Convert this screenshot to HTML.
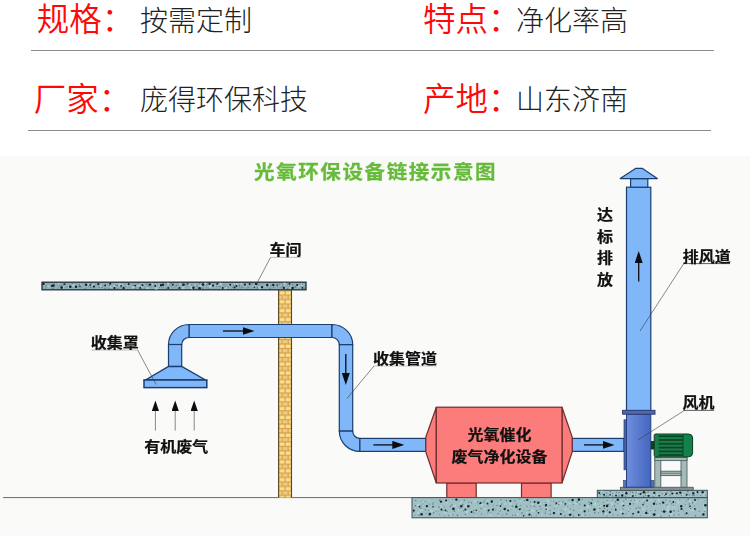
<!DOCTYPE html>
<html lang="zh-CN">
<head>
<meta charset="utf-8">
<title>光氧环保设备链接示意图</title>
<style>
html,body{margin:0;padding:0;background:#fff;}
body{width:750px;height:559px;position:relative;overflow:hidden;font-family:"Liberation Sans","Noto Sans CJK SC",sans-serif;}
.lab{position:absolute;color:#ff0808;font-size:32.5px;font-weight:350;line-height:40px;white-space:nowrap;}
.val{position:absolute;color:#222;font-size:28px;font-weight:300;line-height:40px;white-space:nowrap;}
.hr{position:absolute;height:1px;background:#8a8a8a;}
#dg{position:absolute;left:0;top:156px;width:750px;height:380px;background:#fafaf8;overflow:hidden;}
#dg svg{display:block;filter:blur(0.45px);}
svg text{font-family:"Liberation Sans","Noto Sans CJK SC",sans-serif;font-weight:700;fill:#111;stroke:#111;stroke-width:0.25px;stroke-linejoin:round;}
</style>
</head>
<body>
<div class="lab" style="left:36.7px;top:-0.4px;">规格：</div>
<div class="val" style="left:140px;top:1.5px;">按需定制</div>
<div class="lab" style="left:423px;top:-0.4px;">特点：</div>
<div class="val" style="left:516px;top:2px;">净化率高</div>
<div class="hr" style="left:31px;top:50px;width:683px;"></div>
<div class="lab" style="left:33.7px;top:79.6px;">厂家：</div>
<div class="val" style="left:140px;top:80.5px;">庞得环保科技</div>
<div class="lab" style="left:423px;top:79.6px;">产地：</div>
<div class="val" style="left:516px;top:80.5px;">山东济南</div>
<div class="hr" style="left:28px;top:130px;width:683px;"></div>
<div id="dg">
<svg width="750" height="380" viewBox="0 156 750 380">
<defs>
<pattern id="brick" width="13.4" height="8.9" patternUnits="userSpaceOnUse" x="278.3" y="290.6">
<rect width="13.4" height="8.9" fill="#d3a050"/>
<rect x="1.2" y="0.6" width="5" height="3.3" fill="#fbe28a"/><rect x="7.4" y="0.6" width="5" height="3.3" fill="#fbe28a"/>
<rect x="-1.8" y="5" width="5" height="3.3" fill="#f6d27f"/><rect x="4.3" y="5" width="5" height="3.3" fill="#f3c684"/><rect x="10.4" y="5" width="5" height="3.3" fill="#f6d27f"/>
</pattern>
<linearGradient id="fan" x1="0" x2="1" y1="0" y2="0">
<stop offset="0" stop-color="#6f8fdc"/><stop offset="1" stop-color="#4366c0"/>
</linearGradient>
<marker id="ah" markerWidth="12" markerHeight="8" refX="1" refY="4" orient="auto" markerUnits="userSpaceOnUse"><path d="M0,0L12,4L0,8Z" fill="#0c0c10"/></marker>
<marker id="ah2" markerWidth="11" markerHeight="8" refX="0" refY="3.6" orient="auto" markerUnits="userSpaceOnUse"><path d="M0,0L10.5,3.6L0,7.2Z" fill="#0c0c10"/></marker>
</defs>
<!-- title -->
<text transform="translate(254.1,179.1) scale(1,0.92)" font-size="20.5" letter-spacing="1.6" style="fill:#66bb3a;stroke:#66bb3a;stroke-width:0.3px">光氧环保设备链接示意图</text>
<!-- ground line -->
<line x1="3" y1="497.6" x2="412" y2="497.6" stroke="#6a6a6a" stroke-width="1"/>
<!-- brick column -->
<rect x="278.3" y="290" width="13.4" height="207.6" fill="url(#brick)"/>
<line x1="278.6" y1="290" x2="278.6" y2="497.6" stroke="#5e4520" stroke-width="1.1"/>
<line x1="291.5" y1="290" x2="291.5" y2="497.6" stroke="#5e4520" stroke-width="1.1"/>
<!-- slab -->
<rect x="42" y="282.2" width="264" height="7.6" fill="#8fadb3" stroke="#22313a" stroke-width="1.3"/>
<circle cx="44.7" cy="284.4" r="1.4" fill="#b9d4d7" opacity="0.7"/>
<circle cx="48.3" cy="286.2" r="1.2" fill="#b9d4d7" opacity="0.7"/>
<circle cx="52.9" cy="286.0" r="0.9" fill="#b9d4d7" opacity="0.7"/>
<circle cx="58.8" cy="284.1" r="1.0" fill="#b9d4d7" opacity="0.7"/>
<circle cx="63.4" cy="287.5" r="1.0" fill="#b9d4d7" opacity="0.7"/>
<circle cx="67.3" cy="286.6" r="1.7" fill="#b9d4d7" opacity="0.7"/>
<circle cx="73.2" cy="285.5" r="1.7" fill="#b9d4d7" opacity="0.7"/>
<circle cx="75.8" cy="287.6" r="1.1" fill="#b9d4d7" opacity="0.7"/>
<circle cx="80.8" cy="284.3" r="1.1" fill="#b9d4d7" opacity="0.7"/>
<circle cx="87.8" cy="284.6" r="1.4" fill="#b9d4d7" opacity="0.7"/>
<circle cx="91.8" cy="285.4" r="1.3" fill="#b9d4d7" opacity="0.7"/>
<circle cx="94.3" cy="284.0" r="1.1" fill="#b9d4d7" opacity="0.7"/>
<circle cx="101.1" cy="285.7" r="1.2" fill="#b9d4d7" opacity="0.7"/>
<circle cx="105.4" cy="285.8" r="1.1" fill="#b9d4d7" opacity="0.7"/>
<circle cx="110.7" cy="286.9" r="1.1" fill="#b9d4d7" opacity="0.7"/>
<circle cx="114.5" cy="286.1" r="1.6" fill="#b9d4d7" opacity="0.7"/>
<circle cx="119.7" cy="285.0" r="1.7" fill="#b9d4d7" opacity="0.7"/>
<circle cx="122.0" cy="285.6" r="1.5" fill="#b9d4d7" opacity="0.7"/>
<circle cx="126.8" cy="286.0" r="0.9" fill="#b9d4d7" opacity="0.7"/>
<circle cx="133.3" cy="287.2" r="1.4" fill="#b9d4d7" opacity="0.7"/>
<circle cx="138.6" cy="285.2" r="1.5" fill="#b9d4d7" opacity="0.7"/>
<circle cx="142.2" cy="286.4" r="1.3" fill="#b9d4d7" opacity="0.7"/>
<circle cx="147.7" cy="288.0" r="1.3" fill="#b9d4d7" opacity="0.7"/>
<circle cx="151.6" cy="284.0" r="1.5" fill="#b9d4d7" opacity="0.7"/>
<circle cx="156.2" cy="288.2" r="1.6" fill="#b9d4d7" opacity="0.7"/>
<circle cx="159.4" cy="285.5" r="1.4" fill="#b9d4d7" opacity="0.7"/>
<circle cx="163.1" cy="285.8" r="1.0" fill="#b9d4d7" opacity="0.7"/>
<circle cx="168.0" cy="284.0" r="1.5" fill="#b9d4d7" opacity="0.7"/>
<circle cx="172.6" cy="284.9" r="1.2" fill="#b9d4d7" opacity="0.7"/>
<circle cx="180.0" cy="284.1" r="1.3" fill="#b9d4d7" opacity="0.7"/>
<circle cx="183.4" cy="287.7" r="1.6" fill="#b9d4d7" opacity="0.7"/>
<circle cx="189.1" cy="285.0" r="1.2" fill="#b9d4d7" opacity="0.7"/>
<circle cx="191.9" cy="287.7" r="1.7" fill="#b9d4d7" opacity="0.7"/>
<circle cx="195.7" cy="284.5" r="1.1" fill="#b9d4d7" opacity="0.7"/>
<circle cx="200.6" cy="285.9" r="1.4" fill="#b9d4d7" opacity="0.7"/>
<circle cx="205.3" cy="283.8" r="1.2" fill="#b9d4d7" opacity="0.7"/>
<circle cx="210.3" cy="286.3" r="1.7" fill="#b9d4d7" opacity="0.7"/>
<circle cx="216.1" cy="286.1" r="1.4" fill="#b9d4d7" opacity="0.7"/>
<circle cx="220.6" cy="284.0" r="1.6" fill="#b9d4d7" opacity="0.7"/>
<circle cx="225.6" cy="287.7" r="1.5" fill="#b9d4d7" opacity="0.7"/>
<circle cx="228.8" cy="285.5" r="1.0" fill="#b9d4d7" opacity="0.7"/>
<circle cx="234.2" cy="284.0" r="1.0" fill="#b9d4d7" opacity="0.7"/>
<circle cx="237.3" cy="284.5" r="1.2" fill="#b9d4d7" opacity="0.7"/>
<circle cx="241.3" cy="283.8" r="1.0" fill="#b9d4d7" opacity="0.7"/>
<circle cx="246.1" cy="285.4" r="0.9" fill="#b9d4d7" opacity="0.7"/>
<circle cx="253.5" cy="286.5" r="1.0" fill="#b9d4d7" opacity="0.7"/>
<circle cx="255.8" cy="285.3" r="1.2" fill="#b9d4d7" opacity="0.7"/>
<circle cx="259.9" cy="287.6" r="1.7" fill="#b9d4d7" opacity="0.7"/>
<circle cx="265.8" cy="285.9" r="1.0" fill="#b9d4d7" opacity="0.7"/>
<circle cx="269.1" cy="285.3" r="1.1" fill="#b9d4d7" opacity="0.7"/>
<circle cx="276.3" cy="284.5" r="0.9" fill="#b9d4d7" opacity="0.7"/>
<circle cx="281.4" cy="286.1" r="1.0" fill="#b9d4d7" opacity="0.7"/>
<circle cx="284.5" cy="283.9" r="1.3" fill="#b9d4d7" opacity="0.7"/>
<circle cx="290.7" cy="287.6" r="1.5" fill="#b9d4d7" opacity="0.7"/>
<circle cx="292.6" cy="285.4" r="1.0" fill="#b9d4d7" opacity="0.7"/>
<circle cx="299.1" cy="286.1" r="1.5" fill="#b9d4d7" opacity="0.7"/>
<circle cx="302.1" cy="284.8" r="1.5" fill="#b9d4d7" opacity="0.7"/>
<circle cx="46.0" cy="285.4" r="0.7" fill="#5d7a80"/>
<circle cx="45.5" cy="287.9" r="0.5" fill="#5d7a80"/>
<circle cx="48.1" cy="284.3" r="0.4" fill="#5d7a80"/>
<circle cx="46.8" cy="286.9" r="0.5" fill="#5d7a80"/>
<circle cx="51.9" cy="285.6" r="0.6" fill="#5d7a80"/>
<circle cx="52.6" cy="288.5" r="0.8" fill="#5d7a80"/>
<circle cx="54.4" cy="284.0" r="0.5" fill="#5d7a80"/>
<circle cx="53.9" cy="286.7" r="0.6" fill="#5d7a80"/>
<circle cx="59.2" cy="285.4" r="0.6" fill="#5d7a80"/>
<circle cx="58.5" cy="288.1" r="0.4" fill="#5d7a80"/>
<circle cx="61.9" cy="285.5" r="0.7" fill="#5d7a80"/>
<circle cx="62.1" cy="287.4" r="0.5" fill="#5d7a80"/>
<circle cx="65.6" cy="284.2" r="0.7" fill="#5d7a80"/>
<circle cx="66.1" cy="287.2" r="0.6" fill="#5d7a80"/>
<circle cx="69.4" cy="285.1" r="0.5" fill="#5d7a80"/>
<circle cx="67.2" cy="286.6" r="0.8" fill="#5d7a80"/>
<circle cx="72.4" cy="283.8" r="0.7" fill="#5d7a80"/>
<circle cx="72.8" cy="287.8" r="0.5" fill="#5d7a80"/>
<circle cx="75.0" cy="283.8" r="0.4" fill="#5d7a80"/>
<circle cx="76.2" cy="287.7" r="0.6" fill="#5d7a80"/>
<circle cx="79.4" cy="284.5" r="0.7" fill="#5d7a80"/>
<circle cx="79.1" cy="286.8" r="0.5" fill="#5d7a80"/>
<circle cx="81.1" cy="284.0" r="0.6" fill="#5d7a80"/>
<circle cx="81.0" cy="287.2" r="0.5" fill="#5d7a80"/>
<circle cx="86.1" cy="284.3" r="0.6" fill="#5d7a80"/>
<circle cx="85.2" cy="288.3" r="0.6" fill="#5d7a80"/>
<circle cx="89.5" cy="284.6" r="0.6" fill="#5d7a80"/>
<circle cx="88.4" cy="286.3" r="0.6" fill="#5d7a80"/>
<circle cx="90.9" cy="283.5" r="0.7" fill="#5d7a80"/>
<circle cx="90.8" cy="287.3" r="0.7" fill="#5d7a80"/>
<circle cx="95.2" cy="284.2" r="0.6" fill="#5d7a80"/>
<circle cx="95.2" cy="288.0" r="0.4" fill="#5d7a80"/>
<circle cx="98.6" cy="284.0" r="0.5" fill="#5d7a80"/>
<circle cx="99.2" cy="287.4" r="0.6" fill="#5d7a80"/>
<circle cx="102.5" cy="285.5" r="0.6" fill="#5d7a80"/>
<circle cx="102.1" cy="287.4" r="0.6" fill="#5d7a80"/>
<circle cx="105.7" cy="284.5" r="0.6" fill="#5d7a80"/>
<circle cx="105.1" cy="288.4" r="0.7" fill="#5d7a80"/>
<circle cx="109.5" cy="285.6" r="0.5" fill="#5d7a80"/>
<circle cx="108.7" cy="288.4" r="0.7" fill="#5d7a80"/>
<circle cx="110.9" cy="283.8" r="0.6" fill="#5d7a80"/>
<circle cx="110.7" cy="286.8" r="0.4" fill="#5d7a80"/>
<circle cx="115.7" cy="285.2" r="0.8" fill="#5d7a80"/>
<circle cx="114.3" cy="287.9" r="0.7" fill="#5d7a80"/>
<circle cx="117.6" cy="285.5" r="0.8" fill="#5d7a80"/>
<circle cx="117.8" cy="288.4" r="0.6" fill="#5d7a80"/>
<circle cx="121.9" cy="285.7" r="0.7" fill="#5d7a80"/>
<circle cx="121.0" cy="287.2" r="0.6" fill="#5d7a80"/>
<circle cx="124.9" cy="283.9" r="0.5" fill="#5d7a80"/>
<circle cx="125.9" cy="286.3" r="0.6" fill="#5d7a80"/>
<circle cx="128.5" cy="283.5" r="0.5" fill="#5d7a80"/>
<circle cx="129.0" cy="287.4" r="0.4" fill="#5d7a80"/>
<circle cx="133.3" cy="285.2" r="0.8" fill="#5d7a80"/>
<circle cx="131.0" cy="286.9" r="0.4" fill="#5d7a80"/>
<circle cx="136.1" cy="284.1" r="0.5" fill="#5d7a80"/>
<circle cx="135.2" cy="288.3" r="0.7" fill="#5d7a80"/>
<circle cx="138.1" cy="283.8" r="0.8" fill="#5d7a80"/>
<circle cx="138.9" cy="287.8" r="0.4" fill="#5d7a80"/>
<circle cx="140.9" cy="285.0" r="0.6" fill="#5d7a80"/>
<circle cx="140.9" cy="288.4" r="0.7" fill="#5d7a80"/>
<circle cx="146.3" cy="283.7" r="0.7" fill="#5d7a80"/>
<circle cx="144.3" cy="288.2" r="0.6" fill="#5d7a80"/>
<circle cx="148.4" cy="284.7" r="0.8" fill="#5d7a80"/>
<circle cx="148.2" cy="286.6" r="0.6" fill="#5d7a80"/>
<circle cx="151.5" cy="283.7" r="0.5" fill="#5d7a80"/>
<circle cx="151.0" cy="286.7" r="0.5" fill="#5d7a80"/>
<circle cx="155.0" cy="285.2" r="0.5" fill="#5d7a80"/>
<circle cx="155.5" cy="286.7" r="0.5" fill="#5d7a80"/>
<circle cx="157.6" cy="284.0" r="0.4" fill="#5d7a80"/>
<circle cx="159.5" cy="287.5" r="0.5" fill="#5d7a80"/>
<circle cx="162.2" cy="285.6" r="0.4" fill="#5d7a80"/>
<circle cx="163.1" cy="287.2" r="0.6" fill="#5d7a80"/>
<circle cx="166.5" cy="284.4" r="0.6" fill="#5d7a80"/>
<circle cx="166.1" cy="288.5" r="0.5" fill="#5d7a80"/>
<circle cx="169.9" cy="285.1" r="0.7" fill="#5d7a80"/>
<circle cx="168.7" cy="287.1" r="0.4" fill="#5d7a80"/>
<circle cx="171.3" cy="283.6" r="0.7" fill="#5d7a80"/>
<circle cx="171.7" cy="286.6" r="0.4" fill="#5d7a80"/>
<circle cx="176.6" cy="285.4" r="0.7" fill="#5d7a80"/>
<circle cx="175.1" cy="286.8" r="0.5" fill="#5d7a80"/>
<circle cx="178.9" cy="283.8" r="0.6" fill="#5d7a80"/>
<circle cx="178.4" cy="288.4" r="0.8" fill="#5d7a80"/>
<circle cx="182.5" cy="284.0" r="0.8" fill="#5d7a80"/>
<circle cx="181.9" cy="287.1" r="0.4" fill="#5d7a80"/>
<circle cx="185.4" cy="284.5" r="0.6" fill="#5d7a80"/>
<circle cx="185.0" cy="287.4" r="0.4" fill="#5d7a80"/>
<circle cx="188.5" cy="283.7" r="0.6" fill="#5d7a80"/>
<circle cx="187.9" cy="286.3" r="0.5" fill="#5d7a80"/>
<circle cx="191.8" cy="284.8" r="0.6" fill="#5d7a80"/>
<circle cx="193.1" cy="287.8" r="0.7" fill="#5d7a80"/>
<circle cx="196.9" cy="284.4" r="0.5" fill="#5d7a80"/>
<circle cx="197.1" cy="286.6" r="0.7" fill="#5d7a80"/>
<circle cx="199.6" cy="283.6" r="0.7" fill="#5d7a80"/>
<circle cx="200.2" cy="287.7" r="0.7" fill="#5d7a80"/>
<circle cx="203.4" cy="283.8" r="0.6" fill="#5d7a80"/>
<circle cx="202.6" cy="288.2" r="0.7" fill="#5d7a80"/>
<circle cx="206.8" cy="284.8" r="0.8" fill="#5d7a80"/>
<circle cx="206.4" cy="287.8" r="0.5" fill="#5d7a80"/>
<circle cx="208.0" cy="283.8" r="0.5" fill="#5d7a80"/>
<circle cx="208.2" cy="288.2" r="0.6" fill="#5d7a80"/>
<circle cx="213.0" cy="284.9" r="0.7" fill="#5d7a80"/>
<circle cx="212.6" cy="286.3" r="0.7" fill="#5d7a80"/>
<circle cx="216.7" cy="284.6" r="0.6" fill="#5d7a80"/>
<circle cx="216.4" cy="286.4" r="0.7" fill="#5d7a80"/>
<circle cx="218.7" cy="283.6" r="0.5" fill="#5d7a80"/>
<circle cx="220.0" cy="286.7" r="0.7" fill="#5d7a80"/>
<circle cx="224.0" cy="284.6" r="0.6" fill="#5d7a80"/>
<circle cx="222.6" cy="287.8" r="0.7" fill="#5d7a80"/>
<circle cx="226.4" cy="284.9" r="0.4" fill="#5d7a80"/>
<circle cx="225.1" cy="286.8" r="0.7" fill="#5d7a80"/>
<circle cx="228.9" cy="284.8" r="0.4" fill="#5d7a80"/>
<circle cx="228.2" cy="286.9" r="0.7" fill="#5d7a80"/>
<circle cx="233.3" cy="285.0" r="0.5" fill="#5d7a80"/>
<circle cx="232.8" cy="287.3" r="0.6" fill="#5d7a80"/>
<circle cx="235.1" cy="285.5" r="0.5" fill="#5d7a80"/>
<circle cx="237.4" cy="288.4" r="0.4" fill="#5d7a80"/>
<circle cx="239.4" cy="285.3" r="0.8" fill="#5d7a80"/>
<circle cx="239.4" cy="286.9" r="0.5" fill="#5d7a80"/>
<circle cx="244.1" cy="284.0" r="0.6" fill="#5d7a80"/>
<circle cx="241.9" cy="287.5" r="0.8" fill="#5d7a80"/>
<circle cx="245.2" cy="285.3" r="0.6" fill="#5d7a80"/>
<circle cx="247.3" cy="287.9" r="0.5" fill="#5d7a80"/>
<circle cx="250.6" cy="284.6" r="0.4" fill="#5d7a80"/>
<circle cx="248.2" cy="287.4" r="0.6" fill="#5d7a80"/>
<circle cx="252.4" cy="283.8" r="0.5" fill="#5d7a80"/>
<circle cx="252.4" cy="288.2" r="0.4" fill="#5d7a80"/>
<circle cx="257.0" cy="285.4" r="0.4" fill="#5d7a80"/>
<circle cx="257.4" cy="287.9" r="0.8" fill="#5d7a80"/>
<circle cx="259.1" cy="284.3" r="0.6" fill="#5d7a80"/>
<circle cx="261.0" cy="287.6" r="0.5" fill="#5d7a80"/>
<circle cx="262.8" cy="284.1" r="0.4" fill="#5d7a80"/>
<circle cx="261.9" cy="288.1" r="0.5" fill="#5d7a80"/>
<circle cx="267.5" cy="284.0" r="0.5" fill="#5d7a80"/>
<circle cx="266.4" cy="286.7" r="0.5" fill="#5d7a80"/>
<circle cx="271.0" cy="285.5" r="0.7" fill="#5d7a80"/>
<circle cx="270.1" cy="288.3" r="0.8" fill="#5d7a80"/>
<circle cx="273.2" cy="285.1" r="0.4" fill="#5d7a80"/>
<circle cx="273.7" cy="287.3" r="0.7" fill="#5d7a80"/>
<circle cx="276.8" cy="284.1" r="0.4" fill="#5d7a80"/>
<circle cx="277.6" cy="286.6" r="0.6" fill="#5d7a80"/>
<circle cx="279.4" cy="284.1" r="0.7" fill="#5d7a80"/>
<circle cx="281.1" cy="286.9" r="0.7" fill="#5d7a80"/>
<circle cx="282.6" cy="284.7" r="0.6" fill="#5d7a80"/>
<circle cx="282.3" cy="286.6" r="0.5" fill="#5d7a80"/>
<circle cx="287.6" cy="284.6" r="0.5" fill="#5d7a80"/>
<circle cx="287.6" cy="288.5" r="0.6" fill="#5d7a80"/>
<circle cx="288.9" cy="283.9" r="0.4" fill="#5d7a80"/>
<circle cx="289.5" cy="286.5" r="0.5" fill="#5d7a80"/>
<circle cx="292.6" cy="284.8" r="0.8" fill="#5d7a80"/>
<circle cx="293.9" cy="287.2" r="0.6" fill="#5d7a80"/>
<circle cx="296.7" cy="284.3" r="0.5" fill="#5d7a80"/>
<circle cx="295.4" cy="286.9" r="0.8" fill="#5d7a80"/>
<circle cx="299.0" cy="284.6" r="0.7" fill="#5d7a80"/>
<circle cx="300.9" cy="286.8" r="0.5" fill="#5d7a80"/>
<circle cx="302.6" cy="284.4" r="0.6" fill="#5d7a80"/>
<circle cx="304.5" cy="288.2" r="0.7" fill="#5d7a80"/>
<circle cx="43.6" cy="283.9" r="1.2" fill="#16242c"/>
<circle cx="52.0" cy="285.9" r="1.1" fill="#16242c"/>
<circle cx="53.4" cy="285.5" r="1.3" fill="#16242c"/>
<circle cx="61.6" cy="287.6" r="1.3" fill="#16242c"/>
<circle cx="64.3" cy="284.2" r="0.9" fill="#16242c"/>
<circle cx="70.3" cy="286.8" r="1.3" fill="#16242c"/>
<circle cx="76.0" cy="286.7" r="1.2" fill="#16242c"/>
<circle cx="79.9" cy="286.2" r="0.8" fill="#16242c"/>
<circle cx="86.1" cy="284.8" r="1.3" fill="#16242c"/>
<circle cx="90.5" cy="285.1" r="0.9" fill="#16242c"/>
<circle cx="93.9" cy="286.6" r="1.1" fill="#16242c"/>
<circle cx="98.3" cy="284.1" r="1.1" fill="#16242c"/>
<circle cx="105.1" cy="285.5" r="0.9" fill="#16242c"/>
<circle cx="110.1" cy="283.8" r="1.0" fill="#16242c"/>
<circle cx="114.5" cy="288.1" r="1.1" fill="#16242c"/>
<circle cx="121.1" cy="285.9" r="0.9" fill="#16242c"/>
<circle cx="123.6" cy="288.1" r="1.2" fill="#16242c"/>
<circle cx="128.7" cy="283.9" r="1.0" fill="#16242c"/>
<circle cx="135.1" cy="285.6" r="0.9" fill="#16242c"/>
<circle cx="140.1" cy="287.9" r="0.9" fill="#16242c"/>
<circle cx="142.5" cy="285.3" r="1.0" fill="#16242c"/>
<circle cx="150.0" cy="284.6" r="1.2" fill="#16242c"/>
<circle cx="155.2" cy="286.0" r="0.9" fill="#16242c"/>
<circle cx="161.0" cy="285.2" r="1.2" fill="#16242c"/>
<circle cx="163.0" cy="284.8" r="1.2" fill="#16242c"/>
<circle cx="168.2" cy="288.0" r="1.0" fill="#16242c"/>
<circle cx="172.8" cy="284.8" r="1.0" fill="#16242c"/>
<circle cx="179.6" cy="288.0" r="0.9" fill="#16242c"/>
<circle cx="183.5" cy="284.7" r="1.3" fill="#16242c"/>
<circle cx="187.4" cy="284.0" r="0.8" fill="#16242c"/>
<circle cx="193.4" cy="287.8" r="1.2" fill="#16242c"/>
<circle cx="199.6" cy="288.2" r="1.3" fill="#16242c"/>
<circle cx="203.0" cy="284.6" r="1.3" fill="#16242c"/>
<circle cx="209.6" cy="283.9" r="1.1" fill="#16242c"/>
<circle cx="213.1" cy="285.4" r="1.0" fill="#16242c"/>
<circle cx="217.2" cy="283.8" r="0.9" fill="#16242c"/>
<circle cx="222.8" cy="288.0" r="0.9" fill="#16242c"/>
<circle cx="230.2" cy="284.7" r="1.0" fill="#16242c"/>
<circle cx="234.6" cy="287.4" r="1.0" fill="#16242c"/>
<circle cx="236.5" cy="285.9" r="1.0" fill="#16242c"/>
<circle cx="244.9" cy="284.6" r="1.0" fill="#16242c"/>
<circle cx="249.7" cy="283.9" r="1.0" fill="#16242c"/>
<circle cx="254.3" cy="287.2" r="0.8" fill="#16242c"/>
<circle cx="256.2" cy="284.0" r="1.3" fill="#16242c"/>
<circle cx="262.0" cy="287.1" r="1.2" fill="#16242c"/>
<circle cx="267.3" cy="285.0" r="1.3" fill="#16242c"/>
<circle cx="273.3" cy="284.9" r="1.2" fill="#16242c"/>
<circle cx="277.1" cy="285.0" r="0.8" fill="#16242c"/>
<circle cx="283.8" cy="287.9" r="1.1" fill="#16242c"/>
<circle cx="289.5" cy="283.9" r="0.9" fill="#16242c"/>
<circle cx="292.5" cy="288.0" r="1.3" fill="#16242c"/>
<circle cx="297.1" cy="284.9" r="1.0" fill="#16242c"/>
<circle cx="302.5" cy="287.9" r="0.9" fill="#16242c"/>
<!-- pipes -->
<g fill="#7fb7f9" stroke="#1b3d70" stroke-width="1.2">
<path d="M189,324.5 H332 V337.5 H189 Z"/>
<path d="M189,324.5 A20.5,20 0 0 0 168.5,344.5 H181.7 A7.3,7 0 0 1 189,337.5 Z"/>
<rect x="168.5" y="344.5" width="13.2" height="22"/>
<path d="M168.5,366.5 H181.7 L205.5,380 H145.5 Z" stroke-width="1.4"/>
<rect x="144" y="380" width="62.8" height="7.6" stroke-width="1.5"/>
<path d="M332,324.5 A20.7,20.2 0 0 1 352.7,344.7 H339.3 A7.3,7.2 0 0 0 332,337.5 Z"/>
<rect x="339.3" y="344.7" width="13.4" height="86.4"/>
<path d="M339.3,431.1 H352.7 A7.2,7.3 0 0 0 359.9,438.4 V451.4 A20.6,20.3 0 0 1 339.3,431.1 Z"/>
<rect x="359.9" y="438.4" width="66" height="13"/>
<rect x="572" y="438.4" width="52" height="13"/>
<rect x="626.5" y="187.2" width="24.3" height="224"/>
<rect x="630.6" y="178.6" width="17.2" height="8.6"/>
<path d="M620.2,178.6 L635.5,168.4 H642.5 L657.3,178.6 Z" stroke-linejoin="round"/>
</g>
<!-- red box -->
<g fill="#fc7c7b" stroke="#6e2c2c" stroke-width="1.2">
<rect x="446.8" y="483" width="29.4" height="14.6"/>
<rect x="521.5" y="483" width="29.6" height="14.6"/>
<path d="M436.3,407.2 L425.8,437 V452 L436.3,483 Z"/>
<path d="M562,407.2 L572.2,437 V452 L562,483 Z"/>
<rect x="436.3" y="407.2" width="125.7" height="75.8"/>
</g>
<!-- concrete base -->
<rect x="412" y="497.6" width="295.3" height="20.2" fill="#a0c0c4" stroke="#3c4f55" stroke-width="1"/>
<circle cx="418.2" cy="504.9" r="1.6" fill="#b9d4d7" opacity="0.7"/>
<circle cx="418.1" cy="513.0" r="1.2" fill="#b9d4d7" opacity="0.7"/>
<circle cx="422.8" cy="502.1" r="1.5" fill="#b9d4d7" opacity="0.7"/>
<circle cx="421.3" cy="510.0" r="1.5" fill="#b9d4d7" opacity="0.7"/>
<circle cx="429.7" cy="500.0" r="0.9" fill="#b9d4d7" opacity="0.7"/>
<circle cx="431.5" cy="511.0" r="1.7" fill="#b9d4d7" opacity="0.7"/>
<circle cx="440.7" cy="506.7" r="1.1" fill="#b9d4d7" opacity="0.7"/>
<circle cx="436.0" cy="509.3" r="1.3" fill="#b9d4d7" opacity="0.7"/>
<circle cx="447.1" cy="502.8" r="1.1" fill="#b9d4d7" opacity="0.7"/>
<circle cx="445.3" cy="513.1" r="1.4" fill="#b9d4d7" opacity="0.7"/>
<circle cx="454.6" cy="505.7" r="1.4" fill="#b9d4d7" opacity="0.7"/>
<circle cx="450.9" cy="514.7" r="1.1" fill="#b9d4d7" opacity="0.7"/>
<circle cx="460.9" cy="502.2" r="1.5" fill="#b9d4d7" opacity="0.7"/>
<circle cx="458.7" cy="510.4" r="1.1" fill="#b9d4d7" opacity="0.7"/>
<circle cx="465.8" cy="505.9" r="1.4" fill="#b9d4d7" opacity="0.7"/>
<circle cx="466.8" cy="511.5" r="1.7" fill="#b9d4d7" opacity="0.7"/>
<circle cx="475.2" cy="501.2" r="1.5" fill="#b9d4d7" opacity="0.7"/>
<circle cx="476.1" cy="515.8" r="1.0" fill="#b9d4d7" opacity="0.7"/>
<circle cx="482.4" cy="505.5" r="1.6" fill="#b9d4d7" opacity="0.7"/>
<circle cx="485.0" cy="508.9" r="1.1" fill="#b9d4d7" opacity="0.7"/>
<circle cx="487.6" cy="500.9" r="1.7" fill="#b9d4d7" opacity="0.7"/>
<circle cx="490.4" cy="515.4" r="1.2" fill="#b9d4d7" opacity="0.7"/>
<circle cx="499.4" cy="502.8" r="1.1" fill="#b9d4d7" opacity="0.7"/>
<circle cx="498.8" cy="515.5" r="1.0" fill="#b9d4d7" opacity="0.7"/>
<circle cx="505.1" cy="504.0" r="1.1" fill="#b9d4d7" opacity="0.7"/>
<circle cx="503.8" cy="509.6" r="1.1" fill="#b9d4d7" opacity="0.7"/>
<circle cx="510.5" cy="503.9" r="1.4" fill="#b9d4d7" opacity="0.7"/>
<circle cx="510.1" cy="508.7" r="1.2" fill="#b9d4d7" opacity="0.7"/>
<circle cx="520.3" cy="500.9" r="1.1" fill="#b9d4d7" opacity="0.7"/>
<circle cx="517.5" cy="514.4" r="1.3" fill="#b9d4d7" opacity="0.7"/>
<circle cx="524.0" cy="500.2" r="1.2" fill="#b9d4d7" opacity="0.7"/>
<circle cx="526.9" cy="513.3" r="1.0" fill="#b9d4d7" opacity="0.7"/>
<circle cx="531.9" cy="504.6" r="1.2" fill="#b9d4d7" opacity="0.7"/>
<circle cx="532.6" cy="510.8" r="1.7" fill="#b9d4d7" opacity="0.7"/>
<circle cx="540.1" cy="503.6" r="1.2" fill="#b9d4d7" opacity="0.7"/>
<circle cx="540.8" cy="514.9" r="1.7" fill="#b9d4d7" opacity="0.7"/>
<circle cx="547.8" cy="500.9" r="1.5" fill="#b9d4d7" opacity="0.7"/>
<circle cx="546.8" cy="508.7" r="1.6" fill="#b9d4d7" opacity="0.7"/>
<circle cx="555.5" cy="505.5" r="1.2" fill="#b9d4d7" opacity="0.7"/>
<circle cx="558.2" cy="512.0" r="1.0" fill="#b9d4d7" opacity="0.7"/>
<circle cx="560.4" cy="503.5" r="1.4" fill="#b9d4d7" opacity="0.7"/>
<circle cx="565.7" cy="509.3" r="1.4" fill="#b9d4d7" opacity="0.7"/>
<circle cx="569.9" cy="503.2" r="1.0" fill="#b9d4d7" opacity="0.7"/>
<circle cx="569.3" cy="512.4" r="1.6" fill="#b9d4d7" opacity="0.7"/>
<circle cx="575.7" cy="503.1" r="1.5" fill="#b9d4d7" opacity="0.7"/>
<circle cx="580.7" cy="510.0" r="1.0" fill="#b9d4d7" opacity="0.7"/>
<circle cx="587.9" cy="506.6" r="1.3" fill="#b9d4d7" opacity="0.7"/>
<circle cx="582.7" cy="515.4" r="1.2" fill="#b9d4d7" opacity="0.7"/>
<circle cx="595.0" cy="504.0" r="1.6" fill="#b9d4d7" opacity="0.7"/>
<circle cx="590.6" cy="514.3" r="1.1" fill="#b9d4d7" opacity="0.7"/>
<circle cx="599.4" cy="505.7" r="1.6" fill="#b9d4d7" opacity="0.7"/>
<circle cx="598.1" cy="510.2" r="1.2" fill="#b9d4d7" opacity="0.7"/>
<circle cx="607.4" cy="502.3" r="1.0" fill="#b9d4d7" opacity="0.7"/>
<circle cx="605.8" cy="513.9" r="1.6" fill="#b9d4d7" opacity="0.7"/>
<circle cx="612.0" cy="503.6" r="1.5" fill="#b9d4d7" opacity="0.7"/>
<circle cx="611.9" cy="514.7" r="1.0" fill="#b9d4d7" opacity="0.7"/>
<circle cx="622.6" cy="503.5" r="1.4" fill="#b9d4d7" opacity="0.7"/>
<circle cx="620.9" cy="511.7" r="1.4" fill="#b9d4d7" opacity="0.7"/>
<circle cx="628.9" cy="504.3" r="1.3" fill="#b9d4d7" opacity="0.7"/>
<circle cx="629.0" cy="508.8" r="1.4" fill="#b9d4d7" opacity="0.7"/>
<circle cx="636.6" cy="501.2" r="1.5" fill="#b9d4d7" opacity="0.7"/>
<circle cx="638.3" cy="511.9" r="1.0" fill="#b9d4d7" opacity="0.7"/>
<circle cx="643.9" cy="500.3" r="1.0" fill="#b9d4d7" opacity="0.7"/>
<circle cx="643.6" cy="509.3" r="1.3" fill="#b9d4d7" opacity="0.7"/>
<circle cx="651.4" cy="499.8" r="1.4" fill="#b9d4d7" opacity="0.7"/>
<circle cx="648.9" cy="513.9" r="1.5" fill="#b9d4d7" opacity="0.7"/>
<circle cx="658.8" cy="499.9" r="1.3" fill="#b9d4d7" opacity="0.7"/>
<circle cx="658.0" cy="515.5" r="1.0" fill="#b9d4d7" opacity="0.7"/>
<circle cx="668.1" cy="506.8" r="1.5" fill="#b9d4d7" opacity="0.7"/>
<circle cx="667.9" cy="510.0" r="1.7" fill="#b9d4d7" opacity="0.7"/>
<circle cx="673.3" cy="506.5" r="1.6" fill="#b9d4d7" opacity="0.7"/>
<circle cx="671.4" cy="514.3" r="1.6" fill="#b9d4d7" opacity="0.7"/>
<circle cx="678.2" cy="502.1" r="1.5" fill="#b9d4d7" opacity="0.7"/>
<circle cx="678.7" cy="515.1" r="1.1" fill="#b9d4d7" opacity="0.7"/>
<circle cx="689.9" cy="500.6" r="1.3" fill="#b9d4d7" opacity="0.7"/>
<circle cx="690.5" cy="510.1" r="1.1" fill="#b9d4d7" opacity="0.7"/>
<circle cx="695.4" cy="501.8" r="0.9" fill="#b9d4d7" opacity="0.7"/>
<circle cx="693.5" cy="509.8" r="1.6" fill="#b9d4d7" opacity="0.7"/>
<circle cx="703.8" cy="506.0" r="1.0" fill="#b9d4d7" opacity="0.7"/>
<circle cx="704.4" cy="509.4" r="1.3" fill="#b9d4d7" opacity="0.7"/>
<circle cx="415.7" cy="500.4" r="0.7" fill="#5d7a80"/>
<circle cx="415.4" cy="505.7" r="0.8" fill="#5d7a80"/>
<circle cx="413.7" cy="511.8" r="0.7" fill="#5d7a80"/>
<circle cx="414.8" cy="515.6" r="0.5" fill="#5d7a80"/>
<circle cx="421.9" cy="501.2" r="0.5" fill="#5d7a80"/>
<circle cx="421.0" cy="505.2" r="0.5" fill="#5d7a80"/>
<circle cx="421.0" cy="508.3" r="0.7" fill="#5d7a80"/>
<circle cx="419.1" cy="515.0" r="0.8" fill="#5d7a80"/>
<circle cx="425.2" cy="501.5" r="0.5" fill="#5d7a80"/>
<circle cx="422.9" cy="503.7" r="0.5" fill="#5d7a80"/>
<circle cx="425.3" cy="509.7" r="0.6" fill="#5d7a80"/>
<circle cx="426.4" cy="513.2" r="0.5" fill="#5d7a80"/>
<circle cx="430.2" cy="499.1" r="0.4" fill="#5d7a80"/>
<circle cx="429.1" cy="504.0" r="0.5" fill="#5d7a80"/>
<circle cx="428.6" cy="510.3" r="0.6" fill="#5d7a80"/>
<circle cx="428.5" cy="515.0" r="0.6" fill="#5d7a80"/>
<circle cx="433.1" cy="502.5" r="0.5" fill="#5d7a80"/>
<circle cx="433.1" cy="504.0" r="0.7" fill="#5d7a80"/>
<circle cx="435.9" cy="511.0" r="0.6" fill="#5d7a80"/>
<circle cx="433.6" cy="512.7" r="0.7" fill="#5d7a80"/>
<circle cx="439.5" cy="500.3" r="0.7" fill="#5d7a80"/>
<circle cx="439.1" cy="507.0" r="0.7" fill="#5d7a80"/>
<circle cx="438.3" cy="511.4" r="0.4" fill="#5d7a80"/>
<circle cx="439.4" cy="514.2" r="0.5" fill="#5d7a80"/>
<circle cx="442.4" cy="501.9" r="0.4" fill="#5d7a80"/>
<circle cx="444.3" cy="507.0" r="0.5" fill="#5d7a80"/>
<circle cx="442.9" cy="510.4" r="0.6" fill="#5d7a80"/>
<circle cx="444.6" cy="515.7" r="0.5" fill="#5d7a80"/>
<circle cx="448.2" cy="500.1" r="0.4" fill="#5d7a80"/>
<circle cx="450.4" cy="506.5" r="0.7" fill="#5d7a80"/>
<circle cx="447.0" cy="511.2" r="0.7" fill="#5d7a80"/>
<circle cx="448.8" cy="515.4" r="0.6" fill="#5d7a80"/>
<circle cx="452.7" cy="499.4" r="0.5" fill="#5d7a80"/>
<circle cx="451.9" cy="504.8" r="0.7" fill="#5d7a80"/>
<circle cx="454.5" cy="511.2" r="0.7" fill="#5d7a80"/>
<circle cx="452.8" cy="514.7" r="0.6" fill="#5d7a80"/>
<circle cx="459.6" cy="501.0" r="0.5" fill="#5d7a80"/>
<circle cx="459.1" cy="507.1" r="0.5" fill="#5d7a80"/>
<circle cx="460.0" cy="508.2" r="0.5" fill="#5d7a80"/>
<circle cx="457.5" cy="515.4" r="0.8" fill="#5d7a80"/>
<circle cx="464.3" cy="500.2" r="0.8" fill="#5d7a80"/>
<circle cx="462.7" cy="504.5" r="0.8" fill="#5d7a80"/>
<circle cx="463.8" cy="510.7" r="0.7" fill="#5d7a80"/>
<circle cx="465.2" cy="514.4" r="0.7" fill="#5d7a80"/>
<circle cx="468.9" cy="502.2" r="0.6" fill="#5d7a80"/>
<circle cx="469.0" cy="505.7" r="0.5" fill="#5d7a80"/>
<circle cx="467.0" cy="510.4" r="0.4" fill="#5d7a80"/>
<circle cx="469.7" cy="513.2" r="0.4" fill="#5d7a80"/>
<circle cx="471.4" cy="502.4" r="0.5" fill="#5d7a80"/>
<circle cx="471.6" cy="503.7" r="0.4" fill="#5d7a80"/>
<circle cx="473.7" cy="510.5" r="0.7" fill="#5d7a80"/>
<circle cx="473.9" cy="512.9" r="0.6" fill="#5d7a80"/>
<circle cx="477.3" cy="502.0" r="0.7" fill="#5d7a80"/>
<circle cx="479.3" cy="503.8" r="0.7" fill="#5d7a80"/>
<circle cx="479.4" cy="511.6" r="0.4" fill="#5d7a80"/>
<circle cx="476.6" cy="513.1" r="0.4" fill="#5d7a80"/>
<circle cx="483.9" cy="502.0" r="0.7" fill="#5d7a80"/>
<circle cx="483.8" cy="505.9" r="0.5" fill="#5d7a80"/>
<circle cx="481.0" cy="508.5" r="0.7" fill="#5d7a80"/>
<circle cx="481.5" cy="513.9" r="0.6" fill="#5d7a80"/>
<circle cx="485.6" cy="500.0" r="0.5" fill="#5d7a80"/>
<circle cx="488.2" cy="504.9" r="0.5" fill="#5d7a80"/>
<circle cx="489.2" cy="510.0" r="0.7" fill="#5d7a80"/>
<circle cx="487.9" cy="512.8" r="0.6" fill="#5d7a80"/>
<circle cx="492.0" cy="501.9" r="0.5" fill="#5d7a80"/>
<circle cx="493.0" cy="505.6" r="0.5" fill="#5d7a80"/>
<circle cx="493.6" cy="508.5" r="0.7" fill="#5d7a80"/>
<circle cx="490.9" cy="512.7" r="0.5" fill="#5d7a80"/>
<circle cx="498.0" cy="502.6" r="0.4" fill="#5d7a80"/>
<circle cx="497.0" cy="505.4" r="0.7" fill="#5d7a80"/>
<circle cx="495.8" cy="510.0" r="0.5" fill="#5d7a80"/>
<circle cx="498.3" cy="513.7" r="0.8" fill="#5d7a80"/>
<circle cx="501.0" cy="499.8" r="0.7" fill="#5d7a80"/>
<circle cx="501.8" cy="504.0" r="0.7" fill="#5d7a80"/>
<circle cx="500.2" cy="511.0" r="0.7" fill="#5d7a80"/>
<circle cx="502.9" cy="515.0" r="0.5" fill="#5d7a80"/>
<circle cx="506.3" cy="500.5" r="0.8" fill="#5d7a80"/>
<circle cx="505.1" cy="506.8" r="0.4" fill="#5d7a80"/>
<circle cx="505.5" cy="509.1" r="0.8" fill="#5d7a80"/>
<circle cx="506.7" cy="514.1" r="0.8" fill="#5d7a80"/>
<circle cx="510.4" cy="500.7" r="0.6" fill="#5d7a80"/>
<circle cx="512.4" cy="506.3" r="0.7" fill="#5d7a80"/>
<circle cx="510.9" cy="509.3" r="0.5" fill="#5d7a80"/>
<circle cx="512.8" cy="515.1" r="0.7" fill="#5d7a80"/>
<circle cx="515.0" cy="500.7" r="0.7" fill="#5d7a80"/>
<circle cx="516.6" cy="504.1" r="0.6" fill="#5d7a80"/>
<circle cx="517.8" cy="509.0" r="0.5" fill="#5d7a80"/>
<circle cx="515.5" cy="515.3" r="0.7" fill="#5d7a80"/>
<circle cx="519.8" cy="499.6" r="0.5" fill="#5d7a80"/>
<circle cx="520.4" cy="505.5" r="0.5" fill="#5d7a80"/>
<circle cx="520.4" cy="508.8" r="0.8" fill="#5d7a80"/>
<circle cx="522.0" cy="513.1" r="0.8" fill="#5d7a80"/>
<circle cx="524.4" cy="500.5" r="0.8" fill="#5d7a80"/>
<circle cx="527.0" cy="506.3" r="0.6" fill="#5d7a80"/>
<circle cx="524.7" cy="510.5" r="0.4" fill="#5d7a80"/>
<circle cx="524.8" cy="514.1" r="0.4" fill="#5d7a80"/>
<circle cx="530.3" cy="501.9" r="0.7" fill="#5d7a80"/>
<circle cx="530.7" cy="505.9" r="0.6" fill="#5d7a80"/>
<circle cx="529.3" cy="510.4" r="0.6" fill="#5d7a80"/>
<circle cx="531.6" cy="516.0" r="0.6" fill="#5d7a80"/>
<circle cx="535.8" cy="501.8" r="0.6" fill="#5d7a80"/>
<circle cx="534.5" cy="506.2" r="0.8" fill="#5d7a80"/>
<circle cx="536.6" cy="510.7" r="0.7" fill="#5d7a80"/>
<circle cx="536.2" cy="515.0" r="0.6" fill="#5d7a80"/>
<circle cx="539.6" cy="501.3" r="0.4" fill="#5d7a80"/>
<circle cx="540.0" cy="506.5" r="0.7" fill="#5d7a80"/>
<circle cx="540.8" cy="509.1" r="0.6" fill="#5d7a80"/>
<circle cx="540.2" cy="515.0" r="0.6" fill="#5d7a80"/>
<circle cx="545.8" cy="502.4" r="0.5" fill="#5d7a80"/>
<circle cx="545.8" cy="506.4" r="0.6" fill="#5d7a80"/>
<circle cx="545.1" cy="511.7" r="0.4" fill="#5d7a80"/>
<circle cx="545.3" cy="513.3" r="0.7" fill="#5d7a80"/>
<circle cx="551.7" cy="500.9" r="0.4" fill="#5d7a80"/>
<circle cx="550.3" cy="505.6" r="0.7" fill="#5d7a80"/>
<circle cx="550.0" cy="510.5" r="0.7" fill="#5d7a80"/>
<circle cx="550.1" cy="514.2" r="0.8" fill="#5d7a80"/>
<circle cx="553.7" cy="501.5" r="0.6" fill="#5d7a80"/>
<circle cx="555.8" cy="504.1" r="0.8" fill="#5d7a80"/>
<circle cx="554.2" cy="508.4" r="0.5" fill="#5d7a80"/>
<circle cx="554.4" cy="512.8" r="0.6" fill="#5d7a80"/>
<circle cx="559.3" cy="501.6" r="0.5" fill="#5d7a80"/>
<circle cx="558.7" cy="504.4" r="0.7" fill="#5d7a80"/>
<circle cx="561.3" cy="510.1" r="0.5" fill="#5d7a80"/>
<circle cx="560.8" cy="514.1" r="0.5" fill="#5d7a80"/>
<circle cx="563.0" cy="501.9" r="0.7" fill="#5d7a80"/>
<circle cx="564.9" cy="505.3" r="0.6" fill="#5d7a80"/>
<circle cx="563.4" cy="511.7" r="0.5" fill="#5d7a80"/>
<circle cx="564.9" cy="515.7" r="0.7" fill="#5d7a80"/>
<circle cx="569.1" cy="500.1" r="0.6" fill="#5d7a80"/>
<circle cx="567.8" cy="506.6" r="0.5" fill="#5d7a80"/>
<circle cx="570.6" cy="509.1" r="0.6" fill="#5d7a80"/>
<circle cx="568.3" cy="514.3" r="0.5" fill="#5d7a80"/>
<circle cx="572.1" cy="501.7" r="0.5" fill="#5d7a80"/>
<circle cx="573.1" cy="504.7" r="0.6" fill="#5d7a80"/>
<circle cx="573.8" cy="510.5" r="0.7" fill="#5d7a80"/>
<circle cx="573.5" cy="516.1" r="0.7" fill="#5d7a80"/>
<circle cx="577.1" cy="502.1" r="0.8" fill="#5d7a80"/>
<circle cx="579.9" cy="504.1" r="0.7" fill="#5d7a80"/>
<circle cx="579.4" cy="508.2" r="0.4" fill="#5d7a80"/>
<circle cx="580.6" cy="515.1" r="0.5" fill="#5d7a80"/>
<circle cx="582.1" cy="499.6" r="0.5" fill="#5d7a80"/>
<circle cx="584.7" cy="504.9" r="0.5" fill="#5d7a80"/>
<circle cx="585.2" cy="511.0" r="0.5" fill="#5d7a80"/>
<circle cx="585.2" cy="514.9" r="0.7" fill="#5d7a80"/>
<circle cx="589.1" cy="502.3" r="0.7" fill="#5d7a80"/>
<circle cx="589.8" cy="504.3" r="0.7" fill="#5d7a80"/>
<circle cx="588.6" cy="510.9" r="0.6" fill="#5d7a80"/>
<circle cx="590.0" cy="514.7" r="0.5" fill="#5d7a80"/>
<circle cx="592.3" cy="499.6" r="0.6" fill="#5d7a80"/>
<circle cx="591.6" cy="505.3" r="0.5" fill="#5d7a80"/>
<circle cx="593.3" cy="510.0" r="0.6" fill="#5d7a80"/>
<circle cx="594.7" cy="512.7" r="0.7" fill="#5d7a80"/>
<circle cx="598.0" cy="501.1" r="0.7" fill="#5d7a80"/>
<circle cx="599.4" cy="505.0" r="0.6" fill="#5d7a80"/>
<circle cx="599.9" cy="508.4" r="0.7" fill="#5d7a80"/>
<circle cx="598.6" cy="512.8" r="0.6" fill="#5d7a80"/>
<circle cx="603.6" cy="502.4" r="0.5" fill="#5d7a80"/>
<circle cx="604.8" cy="505.5" r="0.6" fill="#5d7a80"/>
<circle cx="604.4" cy="508.3" r="0.7" fill="#5d7a80"/>
<circle cx="603.4" cy="513.9" r="0.7" fill="#5d7a80"/>
<circle cx="607.2" cy="500.8" r="0.6" fill="#5d7a80"/>
<circle cx="608.8" cy="504.4" r="0.6" fill="#5d7a80"/>
<circle cx="607.4" cy="510.2" r="0.7" fill="#5d7a80"/>
<circle cx="606.9" cy="515.7" r="0.6" fill="#5d7a80"/>
<circle cx="612.6" cy="500.0" r="0.6" fill="#5d7a80"/>
<circle cx="614.4" cy="506.0" r="0.7" fill="#5d7a80"/>
<circle cx="611.9" cy="509.3" r="0.5" fill="#5d7a80"/>
<circle cx="612.9" cy="515.0" r="0.7" fill="#5d7a80"/>
<circle cx="615.6" cy="501.7" r="0.8" fill="#5d7a80"/>
<circle cx="617.5" cy="503.8" r="0.5" fill="#5d7a80"/>
<circle cx="615.5" cy="508.8" r="0.8" fill="#5d7a80"/>
<circle cx="617.8" cy="515.1" r="0.7" fill="#5d7a80"/>
<circle cx="623.7" cy="501.3" r="0.6" fill="#5d7a80"/>
<circle cx="622.7" cy="506.1" r="0.6" fill="#5d7a80"/>
<circle cx="622.9" cy="508.9" r="0.7" fill="#5d7a80"/>
<circle cx="622.0" cy="515.5" r="0.4" fill="#5d7a80"/>
<circle cx="625.8" cy="499.2" r="0.7" fill="#5d7a80"/>
<circle cx="628.6" cy="506.0" r="0.5" fill="#5d7a80"/>
<circle cx="628.2" cy="511.0" r="0.6" fill="#5d7a80"/>
<circle cx="626.1" cy="513.8" r="0.6" fill="#5d7a80"/>
<circle cx="631.1" cy="500.6" r="0.7" fill="#5d7a80"/>
<circle cx="633.5" cy="503.8" r="0.6" fill="#5d7a80"/>
<circle cx="630.0" cy="508.6" r="0.7" fill="#5d7a80"/>
<circle cx="632.1" cy="516.0" r="0.6" fill="#5d7a80"/>
<circle cx="634.7" cy="500.5" r="0.6" fill="#5d7a80"/>
<circle cx="638.3" cy="507.2" r="0.6" fill="#5d7a80"/>
<circle cx="636.3" cy="508.5" r="0.7" fill="#5d7a80"/>
<circle cx="635.5" cy="513.3" r="0.4" fill="#5d7a80"/>
<circle cx="639.5" cy="501.5" r="0.4" fill="#5d7a80"/>
<circle cx="643.2" cy="503.9" r="0.7" fill="#5d7a80"/>
<circle cx="640.0" cy="508.2" r="0.7" fill="#5d7a80"/>
<circle cx="640.4" cy="515.4" r="0.5" fill="#5d7a80"/>
<circle cx="644.5" cy="501.9" r="0.7" fill="#5d7a80"/>
<circle cx="647.6" cy="506.3" r="0.4" fill="#5d7a80"/>
<circle cx="646.7" cy="510.7" r="0.6" fill="#5d7a80"/>
<circle cx="647.9" cy="513.6" r="0.8" fill="#5d7a80"/>
<circle cx="651.9" cy="499.1" r="0.4" fill="#5d7a80"/>
<circle cx="651.6" cy="506.6" r="0.4" fill="#5d7a80"/>
<circle cx="650.3" cy="510.8" r="0.5" fill="#5d7a80"/>
<circle cx="652.4" cy="514.5" r="0.4" fill="#5d7a80"/>
<circle cx="655.4" cy="501.1" r="0.6" fill="#5d7a80"/>
<circle cx="656.5" cy="504.1" r="0.7" fill="#5d7a80"/>
<circle cx="655.3" cy="510.5" r="0.7" fill="#5d7a80"/>
<circle cx="655.5" cy="514.1" r="0.7" fill="#5d7a80"/>
<circle cx="662.4" cy="501.9" r="0.6" fill="#5d7a80"/>
<circle cx="659.9" cy="503.8" r="0.8" fill="#5d7a80"/>
<circle cx="661.5" cy="511.2" r="0.5" fill="#5d7a80"/>
<circle cx="661.1" cy="516.3" r="0.7" fill="#5d7a80"/>
<circle cx="665.9" cy="500.2" r="0.6" fill="#5d7a80"/>
<circle cx="667.0" cy="505.0" r="0.7" fill="#5d7a80"/>
<circle cx="665.9" cy="511.4" r="0.7" fill="#5d7a80"/>
<circle cx="664.7" cy="512.7" r="0.5" fill="#5d7a80"/>
<circle cx="670.0" cy="501.2" r="0.7" fill="#5d7a80"/>
<circle cx="671.8" cy="503.8" r="0.7" fill="#5d7a80"/>
<circle cx="671.5" cy="511.3" r="0.6" fill="#5d7a80"/>
<circle cx="669.4" cy="515.8" r="0.7" fill="#5d7a80"/>
<circle cx="675.8" cy="502.4" r="0.5" fill="#5d7a80"/>
<circle cx="673.5" cy="505.6" r="0.7" fill="#5d7a80"/>
<circle cx="674.0" cy="510.9" r="0.8" fill="#5d7a80"/>
<circle cx="674.1" cy="514.9" r="0.7" fill="#5d7a80"/>
<circle cx="679.8" cy="499.8" r="0.5" fill="#5d7a80"/>
<circle cx="680.9" cy="506.5" r="0.6" fill="#5d7a80"/>
<circle cx="678.3" cy="511.1" r="0.7" fill="#5d7a80"/>
<circle cx="678.9" cy="514.8" r="0.8" fill="#5d7a80"/>
<circle cx="686.2" cy="501.0" r="0.6" fill="#5d7a80"/>
<circle cx="685.1" cy="504.3" r="0.5" fill="#5d7a80"/>
<circle cx="683.5" cy="510.7" r="0.5" fill="#5d7a80"/>
<circle cx="685.0" cy="514.2" r="0.6" fill="#5d7a80"/>
<circle cx="688.2" cy="499.2" r="0.8" fill="#5d7a80"/>
<circle cx="689.1" cy="504.0" r="0.7" fill="#5d7a80"/>
<circle cx="690.7" cy="508.7" r="0.6" fill="#5d7a80"/>
<circle cx="689.0" cy="514.6" r="0.4" fill="#5d7a80"/>
<circle cx="692.6" cy="502.7" r="0.7" fill="#5d7a80"/>
<circle cx="694.3" cy="505.7" r="0.5" fill="#5d7a80"/>
<circle cx="695.4" cy="509.7" r="0.8" fill="#5d7a80"/>
<circle cx="695.4" cy="515.7" r="0.8" fill="#5d7a80"/>
<circle cx="698.2" cy="499.2" r="0.5" fill="#5d7a80"/>
<circle cx="698.0" cy="503.9" r="0.4" fill="#5d7a80"/>
<circle cx="699.4" cy="511.3" r="0.6" fill="#5d7a80"/>
<circle cx="700.9" cy="516.0" r="0.4" fill="#5d7a80"/>
<circle cx="704.4" cy="500.5" r="0.4" fill="#5d7a80"/>
<circle cx="705.8" cy="504.5" r="0.6" fill="#5d7a80"/>
<circle cx="704.5" cy="511.6" r="0.7" fill="#5d7a80"/>
<circle cx="703.6" cy="514.3" r="0.5" fill="#5d7a80"/>
<circle cx="419.5" cy="506.7" r="0.9" fill="#16242c"/>
<circle cx="413.8" cy="510.5" r="1.0" fill="#16242c"/>
<circle cx="426.9" cy="506.1" r="1.2" fill="#16242c"/>
<circle cx="421.6" cy="514.3" r="1.2" fill="#16242c"/>
<circle cx="433.0" cy="506.7" r="0.8" fill="#16242c"/>
<circle cx="429.9" cy="514.1" r="1.3" fill="#16242c"/>
<circle cx="440.9" cy="501.7" r="1.1" fill="#16242c"/>
<circle cx="441.4" cy="509.4" r="1.0" fill="#16242c"/>
<circle cx="446.1" cy="500.4" r="1.0" fill="#16242c"/>
<circle cx="445.5" cy="510.3" r="0.9" fill="#16242c"/>
<circle cx="456.4" cy="499.6" r="1.2" fill="#16242c"/>
<circle cx="453.4" cy="508.9" r="1.3" fill="#16242c"/>
<circle cx="461.3" cy="506.3" r="1.2" fill="#16242c"/>
<circle cx="465.4" cy="509.6" r="1.0" fill="#16242c"/>
<circle cx="468.3" cy="506.3" r="1.2" fill="#16242c"/>
<circle cx="471.5" cy="511.9" r="1.0" fill="#16242c"/>
<circle cx="480.5" cy="503.0" r="1.1" fill="#16242c"/>
<circle cx="476.3" cy="510.2" r="0.8" fill="#16242c"/>
<circle cx="487.5" cy="503.5" r="0.9" fill="#16242c"/>
<circle cx="488.5" cy="510.5" r="1.0" fill="#16242c"/>
<circle cx="491.8" cy="501.5" r="1.2" fill="#16242c"/>
<circle cx="492.9" cy="509.8" r="1.0" fill="#16242c"/>
<circle cx="500.5" cy="506.1" r="0.9" fill="#16242c"/>
<circle cx="504.6" cy="509.0" r="1.2" fill="#16242c"/>
<circle cx="510.4" cy="501.0" r="1.0" fill="#16242c"/>
<circle cx="508.1" cy="510.5" r="0.9" fill="#16242c"/>
<circle cx="516.3" cy="506.7" r="1.3" fill="#16242c"/>
<circle cx="519.7" cy="509.3" r="0.9" fill="#16242c"/>
<circle cx="527.3" cy="499.9" r="1.2" fill="#16242c"/>
<circle cx="523.6" cy="515.7" r="0.8" fill="#16242c"/>
<circle cx="534.5" cy="502.0" r="0.9" fill="#16242c"/>
<circle cx="529.5" cy="514.7" r="1.1" fill="#16242c"/>
<circle cx="538.3" cy="502.7" r="1.3" fill="#16242c"/>
<circle cx="538.5" cy="512.8" r="0.9" fill="#16242c"/>
<circle cx="546.0" cy="505.1" r="1.2" fill="#16242c"/>
<circle cx="546.1" cy="509.2" r="0.8" fill="#16242c"/>
<circle cx="556.4" cy="503.1" r="0.9" fill="#16242c"/>
<circle cx="553.9" cy="513.1" r="1.2" fill="#16242c"/>
<circle cx="565.4" cy="503.8" r="0.9" fill="#16242c"/>
<circle cx="560.8" cy="513.9" r="1.0" fill="#16242c"/>
<circle cx="572.6" cy="499.9" r="1.2" fill="#16242c"/>
<circle cx="570.2" cy="514.7" r="1.2" fill="#16242c"/>
<circle cx="578.9" cy="499.6" r="1.3" fill="#16242c"/>
<circle cx="578.8" cy="515.0" r="0.9" fill="#16242c"/>
<circle cx="584.7" cy="505.6" r="1.0" fill="#16242c"/>
<circle cx="584.6" cy="511.3" r="1.1" fill="#16242c"/>
<circle cx="591.3" cy="503.3" r="1.0" fill="#16242c"/>
<circle cx="594.5" cy="509.5" r="1.2" fill="#16242c"/>
<circle cx="604.1" cy="505.8" r="1.0" fill="#16242c"/>
<circle cx="603.4" cy="511.4" r="1.2" fill="#16242c"/>
<circle cx="607.1" cy="505.9" r="1.3" fill="#16242c"/>
<circle cx="609.8" cy="512.3" r="1.1" fill="#16242c"/>
<circle cx="617.8" cy="499.7" r="1.3" fill="#16242c"/>
<circle cx="615.8" cy="509.9" r="0.9" fill="#16242c"/>
<circle cx="623.7" cy="505.5" r="0.8" fill="#16242c"/>
<circle cx="622.8" cy="513.7" r="0.9" fill="#16242c"/>
<circle cx="630.0" cy="503.9" r="1.1" fill="#16242c"/>
<circle cx="633.1" cy="513.7" r="0.9" fill="#16242c"/>
<circle cx="643.0" cy="504.7" r="0.8" fill="#16242c"/>
<circle cx="638.4" cy="512.2" r="1.1" fill="#16242c"/>
<circle cx="647.1" cy="500.4" r="1.0" fill="#16242c"/>
<circle cx="646.2" cy="512.9" r="1.2" fill="#16242c"/>
<circle cx="654.0" cy="503.7" r="1.2" fill="#16242c"/>
<circle cx="654.1" cy="514.6" r="1.3" fill="#16242c"/>
<circle cx="663.2" cy="502.6" r="1.2" fill="#16242c"/>
<circle cx="664.1" cy="511.5" r="1.3" fill="#16242c"/>
<circle cx="673.3" cy="502.0" r="0.9" fill="#16242c"/>
<circle cx="670.6" cy="511.8" r="1.3" fill="#16242c"/>
<circle cx="681.2" cy="506.2" r="1.2" fill="#16242c"/>
<circle cx="681.5" cy="509.0" r="1.1" fill="#16242c"/>
<circle cx="689.9" cy="506.3" r="0.9" fill="#16242c"/>
<circle cx="686.6" cy="513.2" r="1.0" fill="#16242c"/>
<circle cx="695.0" cy="500.0" r="1.0" fill="#16242c"/>
<circle cx="694.8" cy="508.8" r="0.9" fill="#16242c"/>
<circle cx="705.4" cy="505.2" r="1.3" fill="#16242c"/>
<circle cx="703.4" cy="514.5" r="1.2" fill="#16242c"/>
<rect x="597.3" y="490.3" width="110" height="7.3" fill="#a0c0c4" stroke="#3c4f55" stroke-width="1"/>
<circle cx="602.0" cy="491.9" r="1.4" fill="#b9d4d7" opacity="0.7"/>
<circle cx="604.5" cy="494.8" r="1.1" fill="#b9d4d7" opacity="0.7"/>
<circle cx="610.5" cy="495.9" r="1.4" fill="#b9d4d7" opacity="0.7"/>
<circle cx="614.3" cy="494.1" r="1.2" fill="#b9d4d7" opacity="0.7"/>
<circle cx="622.0" cy="493.0" r="1.1" fill="#b9d4d7" opacity="0.7"/>
<circle cx="625.7" cy="492.3" r="1.4" fill="#b9d4d7" opacity="0.7"/>
<circle cx="631.9" cy="494.1" r="1.1" fill="#b9d4d7" opacity="0.7"/>
<circle cx="634.9" cy="494.2" r="1.0" fill="#b9d4d7" opacity="0.7"/>
<circle cx="638.4" cy="492.3" r="1.1" fill="#b9d4d7" opacity="0.7"/>
<circle cx="644.5" cy="493.1" r="1.1" fill="#b9d4d7" opacity="0.7"/>
<circle cx="648.2" cy="494.2" r="1.6" fill="#b9d4d7" opacity="0.7"/>
<circle cx="655.1" cy="494.3" r="1.4" fill="#b9d4d7" opacity="0.7"/>
<circle cx="658.5" cy="494.9" r="1.3" fill="#b9d4d7" opacity="0.7"/>
<circle cx="664.8" cy="494.5" r="1.3" fill="#b9d4d7" opacity="0.7"/>
<circle cx="668.8" cy="492.8" r="1.1" fill="#b9d4d7" opacity="0.7"/>
<circle cx="674.5" cy="493.5" r="1.4" fill="#b9d4d7" opacity="0.7"/>
<circle cx="677.4" cy="493.3" r="1.6" fill="#b9d4d7" opacity="0.7"/>
<circle cx="683.3" cy="494.3" r="1.3" fill="#b9d4d7" opacity="0.7"/>
<circle cx="688.4" cy="496.2" r="1.1" fill="#b9d4d7" opacity="0.7"/>
<circle cx="695.2" cy="492.5" r="1.0" fill="#b9d4d7" opacity="0.7"/>
<circle cx="700.6" cy="493.7" r="0.9" fill="#b9d4d7" opacity="0.7"/>
<circle cx="703.6" cy="493.7" r="1.5" fill="#b9d4d7" opacity="0.7"/>
<circle cx="598.6" cy="492.0" r="0.8" fill="#5d7a80"/>
<circle cx="600.3" cy="494.6" r="0.5" fill="#5d7a80"/>
<circle cx="602.5" cy="493.0" r="0.6" fill="#5d7a80"/>
<circle cx="603.9" cy="496.1" r="0.6" fill="#5d7a80"/>
<circle cx="606.8" cy="493.1" r="0.7" fill="#5d7a80"/>
<circle cx="606.2" cy="496.0" r="0.7" fill="#5d7a80"/>
<circle cx="610.6" cy="491.8" r="0.7" fill="#5d7a80"/>
<circle cx="608.2" cy="496.0" r="0.6" fill="#5d7a80"/>
<circle cx="612.8" cy="493.6" r="0.6" fill="#5d7a80"/>
<circle cx="612.6" cy="496.0" r="0.7" fill="#5d7a80"/>
<circle cx="616.4" cy="492.3" r="0.6" fill="#5d7a80"/>
<circle cx="616.0" cy="495.9" r="0.5" fill="#5d7a80"/>
<circle cx="619.1" cy="492.7" r="0.6" fill="#5d7a80"/>
<circle cx="618.9" cy="496.0" r="0.7" fill="#5d7a80"/>
<circle cx="622.7" cy="492.5" r="0.5" fill="#5d7a80"/>
<circle cx="622.1" cy="494.6" r="0.6" fill="#5d7a80"/>
<circle cx="626.2" cy="491.7" r="0.8" fill="#5d7a80"/>
<circle cx="625.5" cy="496.2" r="0.7" fill="#5d7a80"/>
<circle cx="630.4" cy="491.9" r="0.6" fill="#5d7a80"/>
<circle cx="630.3" cy="494.3" r="0.4" fill="#5d7a80"/>
<circle cx="632.7" cy="492.6" r="0.8" fill="#5d7a80"/>
<circle cx="633.2" cy="495.5" r="0.8" fill="#5d7a80"/>
<circle cx="635.9" cy="492.6" r="0.7" fill="#5d7a80"/>
<circle cx="635.5" cy="495.1" r="0.6" fill="#5d7a80"/>
<circle cx="638.7" cy="493.6" r="0.7" fill="#5d7a80"/>
<circle cx="639.2" cy="494.5" r="0.5" fill="#5d7a80"/>
<circle cx="642.1" cy="492.7" r="0.6" fill="#5d7a80"/>
<circle cx="643.4" cy="496.4" r="0.6" fill="#5d7a80"/>
<circle cx="645.5" cy="492.9" r="0.8" fill="#5d7a80"/>
<circle cx="645.3" cy="495.5" r="0.7" fill="#5d7a80"/>
<circle cx="648.1" cy="492.2" r="0.8" fill="#5d7a80"/>
<circle cx="649.8" cy="495.4" r="0.4" fill="#5d7a80"/>
<circle cx="653.3" cy="493.0" r="0.7" fill="#5d7a80"/>
<circle cx="653.5" cy="496.3" r="0.6" fill="#5d7a80"/>
<circle cx="654.6" cy="492.1" r="0.6" fill="#5d7a80"/>
<circle cx="655.6" cy="494.7" r="0.5" fill="#5d7a80"/>
<circle cx="659.2" cy="492.8" r="0.5" fill="#5d7a80"/>
<circle cx="660.1" cy="495.7" r="0.4" fill="#5d7a80"/>
<circle cx="661.9" cy="493.2" r="0.5" fill="#5d7a80"/>
<circle cx="662.6" cy="494.3" r="0.5" fill="#5d7a80"/>
<circle cx="666.3" cy="492.8" r="0.7" fill="#5d7a80"/>
<circle cx="664.6" cy="495.4" r="0.6" fill="#5d7a80"/>
<circle cx="668.1" cy="492.9" r="0.6" fill="#5d7a80"/>
<circle cx="670.0" cy="495.6" r="0.6" fill="#5d7a80"/>
<circle cx="671.0" cy="491.8" r="0.7" fill="#5d7a80"/>
<circle cx="670.9" cy="494.5" r="0.5" fill="#5d7a80"/>
<circle cx="675.3" cy="493.3" r="0.6" fill="#5d7a80"/>
<circle cx="676.1" cy="494.4" r="0.4" fill="#5d7a80"/>
<circle cx="679.3" cy="492.2" r="0.7" fill="#5d7a80"/>
<circle cx="678.2" cy="494.7" r="0.5" fill="#5d7a80"/>
<circle cx="680.8" cy="493.5" r="0.6" fill="#5d7a80"/>
<circle cx="681.4" cy="495.3" r="0.6" fill="#5d7a80"/>
<circle cx="684.0" cy="493.5" r="0.6" fill="#5d7a80"/>
<circle cx="686.3" cy="495.3" r="0.6" fill="#5d7a80"/>
<circle cx="687.8" cy="491.6" r="0.8" fill="#5d7a80"/>
<circle cx="689.3" cy="495.0" r="0.8" fill="#5d7a80"/>
<circle cx="692.5" cy="492.2" r="0.6" fill="#5d7a80"/>
<circle cx="692.9" cy="495.4" r="0.8" fill="#5d7a80"/>
<circle cx="694.3" cy="492.4" r="0.7" fill="#5d7a80"/>
<circle cx="694.3" cy="495.0" r="0.8" fill="#5d7a80"/>
<circle cx="698.2" cy="493.3" r="0.5" fill="#5d7a80"/>
<circle cx="697.4" cy="495.1" r="0.5" fill="#5d7a80"/>
<circle cx="702.8" cy="492.1" r="0.6" fill="#5d7a80"/>
<circle cx="700.6" cy="495.5" r="0.6" fill="#5d7a80"/>
<circle cx="704.6" cy="491.6" r="0.4" fill="#5d7a80"/>
<circle cx="705.7" cy="495.1" r="0.5" fill="#5d7a80"/>
<circle cx="599.4" cy="493.0" r="0.9" fill="#16242c"/>
<circle cx="604.1" cy="494.7" r="1.0" fill="#16242c"/>
<circle cx="610.1" cy="494.9" r="0.8" fill="#16242c"/>
<circle cx="616.0" cy="495.5" r="0.9" fill="#16242c"/>
<circle cx="622.2" cy="495.5" r="1.2" fill="#16242c"/>
<circle cx="626.4" cy="493.3" r="1.2" fill="#16242c"/>
<circle cx="632.7" cy="496.1" r="0.9" fill="#16242c"/>
<circle cx="640.6" cy="494.0" r="0.9" fill="#16242c"/>
<circle cx="643.9" cy="492.3" r="1.2" fill="#16242c"/>
<circle cx="648.5" cy="495.8" r="1.1" fill="#16242c"/>
<circle cx="654.4" cy="492.9" r="1.1" fill="#16242c"/>
<circle cx="659.1" cy="495.7" r="0.9" fill="#16242c"/>
<circle cx="665.9" cy="494.2" r="0.9" fill="#16242c"/>
<circle cx="672.4" cy="493.5" r="1.1" fill="#16242c"/>
<circle cx="677.0" cy="493.2" r="1.0" fill="#16242c"/>
<circle cx="680.3" cy="492.6" r="1.2" fill="#16242c"/>
<circle cx="686.7" cy="494.7" r="0.9" fill="#16242c"/>
<circle cx="693.2" cy="493.4" r="1.1" fill="#16242c"/>
<circle cx="697.5" cy="492.1" r="1.0" fill="#16242c"/>
<circle cx="702.6" cy="492.3" r="1.2" fill="#16242c"/>
<!-- fan -->
<rect x="620.4" y="487.2" width="72.8" height="3.1" fill="#7f9196" stroke="#3d4a50" stroke-width="0.7"/>
<rect x="623.6" y="480.5" width="3.4" height="6.7" fill="#5673b8" stroke="#2a3b70" stroke-width="0.6"/>
<rect x="650.8" y="480.5" width="3.2" height="6.7" fill="#5673b8" stroke="#2a3b70" stroke-width="0.6"/>
<rect x="624" y="419.8" width="4" height="50" fill="#4864ac" stroke="#2a3b70" stroke-width="0.7"/>
<rect x="626.5" y="414" width="24.3" height="73.2" fill="url(#fan)" stroke="#27407e" stroke-width="1"/>
<rect x="622.6" y="410.3" width="32.4" height="3.9" fill="#4f68b0" stroke="#25356a" stroke-width="0.9"/>
<!-- motor stand -->
<g fill="#a6bab6" stroke="#4f6265" stroke-width="0.9">
<rect x="654.8" y="457.4" width="6" height="29.8"/>
<rect x="681" y="457.4" width="6" height="29.8"/>
<rect x="654.8" y="457.4" width="32.2" height="3.2"/>
<rect x="660.8" y="471.2" width="20.2" height="4.4"/>
</g>
<line x1="660.8" y1="473.3" x2="681" y2="473.3" stroke="#55686a" stroke-width="0.7"/>
<!-- motor -->
<rect x="650.8" y="441" width="4" height="8.5" fill="#103f24"/>
<path d="M655.6,434 H688.6 Q692.6,434 692.6,438 V452.8 Q692.6,456.8 688.6,456.8 H655.6 Q654.2,456.8 654.2,455.4 V435.4 Q654.2,434 655.6,434 Z" fill="#14804a" stroke="#0a3a20" stroke-width="1"/>
<rect x="658.6" y="434.6" width="24.2" height="21.6" fill="#1b7d49"/>
<g stroke="#0a4526" stroke-width="1.7">
<line x1="658.6" y1="436.2" x2="682.8" y2="436.2"/><line x1="658.6" y1="440" x2="682.8" y2="440"/><line x1="658.6" y1="443.8" x2="682.8" y2="443.8"/><line x1="658.6" y1="447.6" x2="682.8" y2="447.6"/><line x1="658.6" y1="451.4" x2="682.8" y2="451.4"/><line x1="658.6" y1="455" x2="682.8" y2="455"/>
</g>
<line x1="683" y1="434.5" x2="683" y2="456.3" stroke="#0a4022" stroke-width="0.9"/>
<!-- arrows -->
<g stroke="#0c0c10" stroke-width="1.3" fill="none">
<line x1="223" y1="331" x2="243.5" y2="331" marker-end="url(#ah)"/>
<line x1="345.8" y1="354" x2="345.8" y2="374" marker-end="url(#ah)"/>
<line x1="373.4" y1="444.9" x2="393.3" y2="444.9" marker-end="url(#ah)"/>
<line x1="584" y1="444.9" x2="603.5" y2="444.9" marker-end="url(#ah)"/>
<line x1="638.7" y1="281.5" x2="638.7" y2="262" marker-end="url(#ah)"/>
</g>
<g stroke="#6a6a6a" stroke-width="0.8" fill="none">
<line x1="155.4" y1="430.5" x2="155.4" y2="411" marker-end="url(#ah2)"/>
<line x1="175.2" y1="430.5" x2="175.2" y2="411" marker-end="url(#ah2)"/>
<line x1="194.2" y1="430.5" x2="194.2" y2="411" marker-end="url(#ah2)"/>
</g>
<!-- leader lines -->
<g stroke="#3a3a3a" stroke-width="0.6" fill="none">
<path d="M270.5,257.5 L256,285"/>
<path d="M137.5,349.8 L156,384.5"/>
<path d="M374,366 L347,398.5"/>
<path d="M683.5,264 L640,331"/>
<path d="M683.5,411 L638,440"/>
</g>
<g stroke="#222" stroke-width="0.8" fill="none">
<path d="M683.2,263.6 H730" opacity="0.9"/>
<path d="M683.2,410.4 H714.2" opacity="0.9"/>
<path d="M270.3,257.4 H300.7" opacity="0.35"/>
<path d="M91.4,350 H137.5" opacity="0.35"/>
<path d="M373.6,366 H436.4" opacity="0.3"/>
</g>
<!-- labels -->
<g font-size="16">
<text transform="translate(269.6,255.2) scale(1,0.9)" text-anchor="start">车间</text>
<text transform="translate(90.8,347.8) scale(1,0.9)" text-anchor="start">收集罩</text>
<text transform="translate(373,363.8) scale(1,0.9)" text-anchor="start">收集管道</text>
<text transform="translate(144.2,452.0) scale(1,0.9)" text-anchor="start">有机废气</text>
<text transform="translate(682.8,261.6) scale(1,0.9)" text-anchor="start">排风道</text>
<text transform="translate(682.6,408.4) scale(1,0.9)" text-anchor="start">风机</text>
<text transform="translate(597,220.0) scale(1,0.9)" text-anchor="start">达</text>
<text transform="translate(597,241.5) scale(1,0.9)" text-anchor="start">标</text>
<text transform="translate(597,263.0) scale(1,0.9)" text-anchor="start">排</text>
<text transform="translate(597,284.5) scale(1,0.9)" text-anchor="start">放</text>
<text transform="translate(499.4,439.8) scale(1,0.9)" text-anchor="middle">光氧催化</text>
<text transform="translate(499.5,461.8) scale(1,0.9)" text-anchor="middle">废气净化设备</text>
</g>
</svg>
</div>
</body>
</html>
